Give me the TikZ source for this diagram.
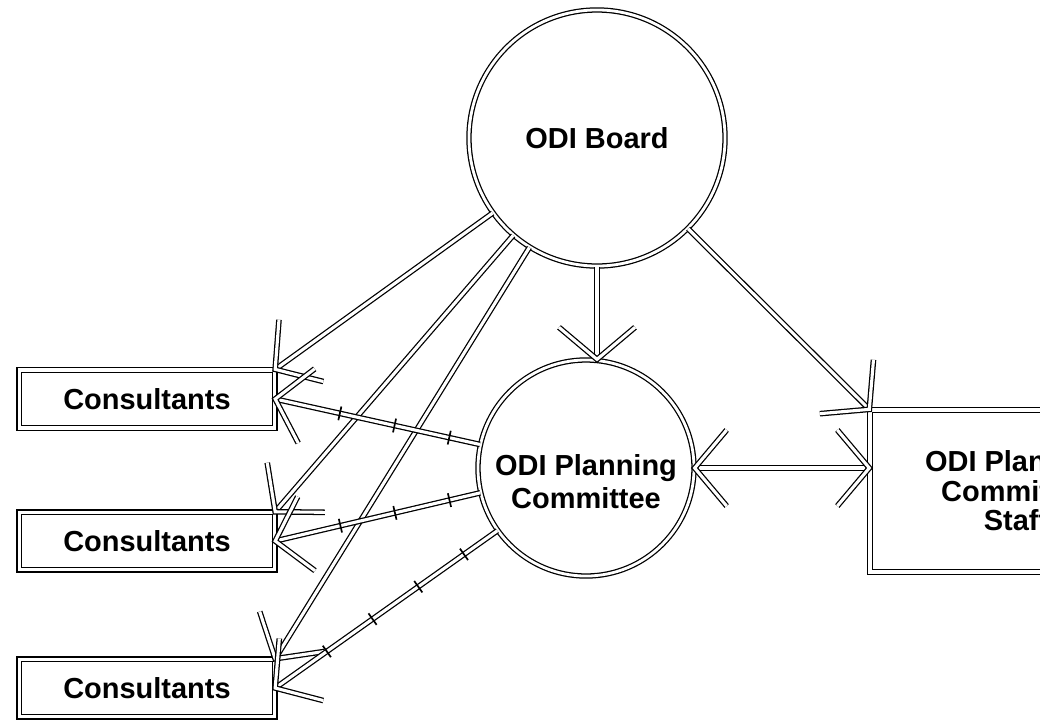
\documentclass[tikz,border=0pt]{standalone}
\usepackage{fontspec}
\setmainfont{Liberation Sans}
\usetikzlibrary{decorations.markings}
\tikzset{
  dline/.style={double, double distance=2.2pt, line width=0.9pt},
  barbs/.style={-, dline, line join=miter, miter limit=6},
  link/.style={draw, dline, postaction={decorate, decoration={markings,
      mark=at position 1 with {\draw[barbs] (-8mm,9.5mm) -- (0,0) -- (-8mm,-9.5mm);}}}},
  twolink/.style={link, postaction={decorate, decoration={markings,
      mark=at position 0 with {\draw[barbs] (8mm,9.5mm) -- (0,0) -- (8mm,-9.5mm);}}}},
  tickedlink/.style={link, postaction={decorate, decoration={markings,
      mark=between positions 0.15 and 0.9 step 14mm with {\draw[-, line width=1.2pt] (0,-5pt) -- (0,5pt);}}}},
  bubble/.style={circle, draw, dline, double distance=2pt, inner sep=0pt},
  box/.style={rectangle, draw, dline, double distance=2.5pt, inner sep=0pt, align=center},
  lbl/.style={font=\bfseries\fontsize{20.6}{23.5}\selectfont, align=center}
}
\begin{document}
\begin{tikzpicture}[x=0.025cm, y=-0.025cm]
  \useasboundingbox (0,0) rectangle (1040,719);
  \clip (0,0) rectangle (1040,719);

  % circles
  \node[bubble, minimum size=6.4cm, lbl] (board) at (597,138) {ODI Board};
  \node[bubble, minimum size=5.4cm] (plan) at (586,468) {};
  \node[lbl] (plantext) at (586,482) {ODI Planning\\Committee};

  % boxes
  \node[box, minimum width=7.3cm, minimum height=4.05cm, lbl,
    font=\bfseries\fontsize{20.6}{21}\selectfont] (staff) at (1016,491)
    {ODI Planning\\Committee\\Staff};
  \node[box, minimum width=6.375cm, minimum height=1.45cm, lbl] (cons1) at (147,399) {Consultants};
  \node[box, minimum width=6.375cm, minimum height=1.43cm, lbl] (cons2) at (147,541) {Consultants};
  \node[box, minimum width=6.375cm, minimum height=1.43cm, lbl] (cons3) at (147,688) {Consultants};

  % board links
  \draw[link] (board) -- (cons1.north east);
  \draw[link] (board) -- (cons2.north east);
  \draw[link] (board) -- (cons3.north east);
  \draw[link] (board.south) -- (board.south |- plan.north);
  \draw[link] (board) -- (staff.north west);

  % committee links
  \draw[twolink] (plan.east) -- (plan.east -| staff.west);
  \draw[tickedlink] (plan) -- (cons1.east);
  \draw[tickedlink] (plan) -- (cons2.east);
  \draw[tickedlink] (plan) -- (cons3.east);
\end{tikzpicture}
\end{document}
